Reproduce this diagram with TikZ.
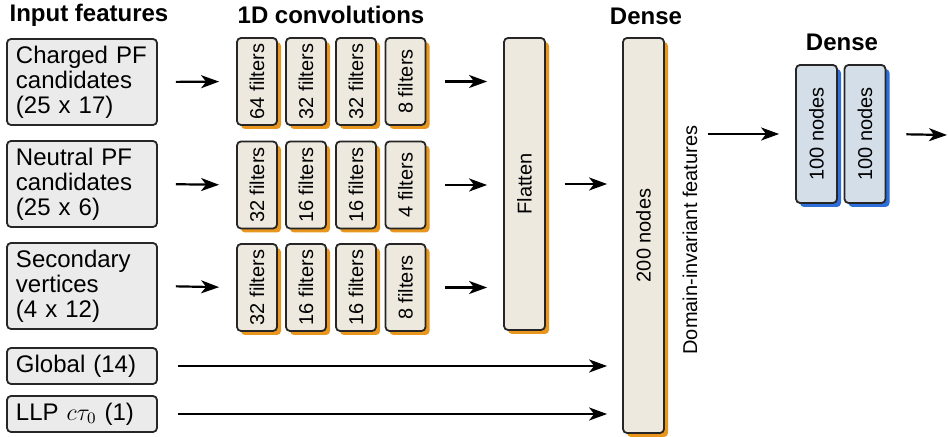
\documentclass[tikz,border=0pt]{standalone}
\usepackage{fontspec}
\setmainfont{Liberation Sans}
\usetikzlibrary{arrows.meta,shadows}
\definecolor{beige}{HTML}{EEE9DF}
\definecolor{ingray}{HTML}{EBEBEB}
\definecolor{lblue}{HTML}{D3DEE9}
\definecolor{shorange}{HTML}{E8961E}
\definecolor{shblue}{HTML}{2E6ED8}

\begin{document}
\begin{tikzpicture}[x=0.5pt,y=-0.5pt,
  inbox/.style={draw=black!85,line width=0.9pt,rounded corners=2pt,fill=ingray,
    text width=66pt,minimum width=75pt,align=left,inner sep=0pt,font=\fontsize{12}{12.5}\selectfont},
  filt/.style={draw=black!85,line width=0.9pt,rounded corners=2pt,fill=beige,rotate=90,
    minimum width=43.5pt,minimum height=20pt,inner sep=0pt,font=\fontsize{10}{11}\selectfont,
    drop shadow={shadow xshift=2pt,shadow yshift=-2pt,fill=shorange,opacity=1}},
  blue/.style={draw=black!85,line width=0.9pt,rounded corners=2pt,fill=lblue,rotate=90,
    minimum width=69pt,minimum height=20.5pt,inner sep=0pt,font=\fontsize{10}{11}\selectfont,
    drop shadow={shadow xshift=2pt,shadow yshift=-2pt,fill=shblue,opacity=1}},
  title/.style={font=\fontsize{12}{13}\selectfont\bfseries},
  arr/.style={-{Stealth[length=9pt,width=6.5pt,inset=2.5pt]},line width=1.1pt}]
\useasboundingbox (0,0) rectangle (948,437);

% titles
\node[title] (tin) at (89,15) {Input features};
\node[title] (tconv) at (331,15) {1D convolutions};
\node[title] (tdense) at (646,16) {Dense};
\node[title] (tdense2) at (842,42) {Dense};

% inputs
\node[inbox,minimum height=43pt] (in1) at (82,82) {Charged PF\\candidates\\(25 x 17)};
\node[inbox,minimum height=43pt] (in2) at (82,184) {Neutral PF\\candidates\\(25 x 6)};
\node[inbox,minimum height=43pt] (in3) at (82,286) {Secondary\\vertices\\(4 x 12)};
\node[inbox,minimum height=18pt] (glob) at (82,366) {Global (14)};
\node[inbox,minimum height=18pt] (llp) at (82,414) {LLP $c\tau_0$ (1)};

% convolutions
\node[filt] (f11) at (257,81.5) {64 filters};
\node[filt] (f12) at (306,81.5) {32 filters};
\node[filt] (f13) at (356,81.5) {32 filters};
\node[filt] (f14) at (405.5,81.5) {8 filters};
\node[filt] (f21) at (257,185) {32 filters};
\node[filt] (f22) at (306,185) {16 filters};
\node[filt] (f23) at (356,185) {16 filters};
\node[filt] (f24) at (405.5,185) {4 filters};
\node[filt] (f31) at (257,287.5) {32 filters};
\node[filt] (f32) at (306,287.5) {16 filters};
\node[filt] (f33) at (356,287.5) {16 filters};
\node[filt] (f34) at (405.5,287.5) {8 filters};

% flatten and dense
\node[filt,minimum width=146pt,minimum height=20.5pt] (flat) at (524.5,184) {Flatten};
\node[filt,minimum width=197.5pt,minimum height=20.5pt] (d200) at (643.5,235.5) {200 nodes};
\node[rotate=90,font=\fontsize{10}{11}\selectfont,inner sep=0pt] (dinv) at (690,240) {Domain-invariant features};
\node[blue] (b1) at (816.5,134) {100 nodes};
\node[blue] (b2) at (865,134) {100 nodes};
\coordinate (out) at (947,135);

% arrows
\draw[arr,shorten <=9pt,shorten >=8.5pt] (in1.east) -- (f11.north);
\draw[arr,shorten <=9pt,shorten >=8.5pt] (in2.east) -- (f21.north);
\draw[arr,shorten <=9pt,shorten >=8.5pt] (in3.east) -- (f31.north);
\draw[arr,shorten <=9.5pt,shorten >=8pt] (f14.south) -- (f14.south -| flat.north);
\draw[arr,shorten <=9.5pt,shorten >=8pt] (f24.south) -- (f24.south -| flat.north);
\draw[arr,shorten <=9.5pt,shorten >=8pt] (f34.south) -- (f34.south -| flat.north);
\draw[arr,shorten <=9.5pt,shorten >=7.5pt] (flat.south) -- (flat.south -| d200.north);
\draw[arr,shorten <=10pt,shorten >=7.5pt] (glob.east) -- (glob.east -| d200.north);
\draw[arr,shorten <=10pt,shorten >=7.5pt] (llp.east) -- (llp.east -| d200.north);
\draw[arr,shorten <=5pt,shorten >=8pt] (dinv.south |- b1.north) -- (b1.north);
\draw[arr,shorten <=10pt] (b2.south) -- (out);
\end{tikzpicture}
\end{document}
